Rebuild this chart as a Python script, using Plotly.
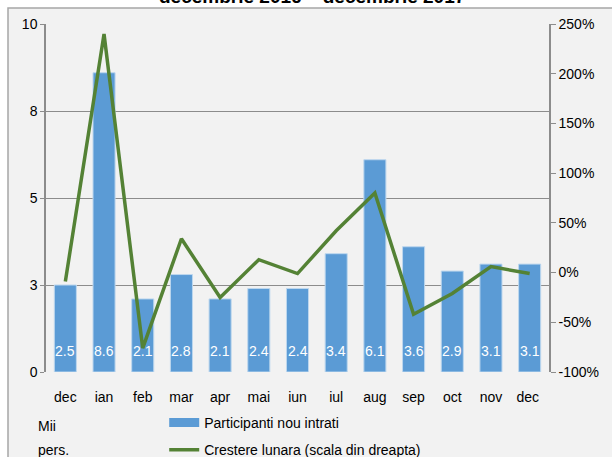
import plotly.graph_objects as go

months = ["dec", "ian", "feb", "mar", "apr", "mai", "iun", "iul", "aug", "sep", "oct", "nov", "dec "]
participanti = [2.5, 8.6, 2.1, 2.8, 2.1, 2.4, 2.4, 3.4, 6.1, 3.6, 2.9, 3.1, 3.1]
crestere = [-9, 240, -76, 34, -25, 13, -1, 42, 80, -42, -21, 6, -1]

left_ticks = [0, 2.5, 5, 7.5, 10]
left_labels = ["0", "3", "5", "8", "10"]
right_ticks = [-100, -50, 0, 50, 100, 150, 200, 250]

BLUE = "#5b9bd5"
GREEN = "#548235"

fig = go.Figure()

fig.add_trace(go.Bar(
    x=months, y=participanti, name="Participanti nou intrati",
    marker=dict(color=BLUE, line=dict(color="#bdd7ee", width=1)),
    width=0.57, showlegend=False,
))
# wide legend swatch for the bars, like the original
fig.add_trace(go.Scatter(
    x=[None], y=[None], name="Participanti nou intrati", mode="lines",
    line=dict(color=BLUE, width=9), legendgroup="a",
))

fig.add_trace(go.Scatter(
    x=months, y=crestere, name="Crestere lunara (scala din dreapta)",
    mode="lines", line=dict(color=GREEN, width=3.5), yaxis="y2",
    legendgroup="b",
))

# value labels at the base of each bar
for m, v in zip(months, participanti):
    fig.add_annotation(x=m, y=0, text=f"{v:.1f}", showarrow=False,
                       yanchor="bottom", yshift=11,
                       font=dict(color="white", size=14))

# grey chart box, inset from the page corner
fig.add_shape(type="rect", xref="paper", yref="paper",
              x0=-38 / 503, x1=1.3, y0=-0.5, y1=1 + 16 / 348,
              fillcolor="#f2f2f2", line=dict(color="#a6a6a6", width=1.5),
              layer="below")

fig.add_annotation(xref="paper", yref="paper", x=0.529, y=1.08,
                   text="<b>decembrie 2016 – decembrie 2017</b>",
                   showarrow=False, yanchor="middle",
                   font=dict(size=19, color="black"))

fig.add_annotation(xref="paper", yref="paper", x=-0.02, y=(372 - 426) / 348,
                   text="Mii", showarrow=False, yanchor="middle",
                   font=dict(size=14, color="black"))
fig.add_annotation(xref="paper", yref="paper", x=-0.02, y=(372 - 450) / 348,
                   text="pers.", showarrow=False, yanchor="middle",
                   font=dict(size=14, color="black"))

fig.update_layout(
    width=612, height=457,
    margin=dict(l=46, r=63, t=24, b=85, autoexpand=False),
    paper_bgcolor="white",
    plot_bgcolor="rgba(0,0,0,0)",
    font=dict(family="Liberation Sans, Arial, sans-serif", size=14, color="black"),
    showlegend=True,
    legend=dict(x=0.235, y=(372 - 407) / 348, xanchor="left", yanchor="top",
                traceorder="grouped", tracegroupgap=6,
                bgcolor="rgba(0,0,0,0)", font=dict(size=14)),
    xaxis=dict(showline=False, showgrid=False,
               ticks="outside", ticklen=12, tickcolor="rgba(0,0,0,0)"),
    yaxis=dict(range=[0, 10], tickvals=left_ticks, ticktext=left_labels,
               showgrid=True, gridcolor="#8c8c8c", gridwidth=1,
               showline=True, linecolor="#8c8c8c", linewidth=1.5,
               ticks="outside", ticklen=4, tickcolor="#8c8c8c",
               zeroline=False),
    yaxis2=dict(range=[-100, 250], tickvals=right_ticks,
                ticktext=[f"{t}%" for t in right_ticks],
                overlaying="y", side="right", showgrid=False,
                showline=True, linecolor="#8c8c8c", linewidth=1.5,
                ticks="outside", ticklen=5, tickcolor="#8c8c8c",
                zeroline=False),
)

# drop the default page margin so the figure sits at the window corner
fig.write_html("out.html", config={"displayModeBar": False},
               post_script="document.body.style.margin='0';")
